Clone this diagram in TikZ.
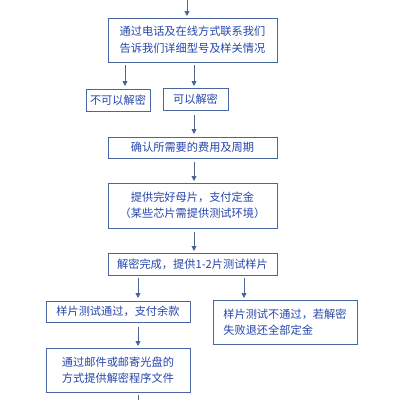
\documentclass[tikz,border=0pt]{standalone}
\usepackage{fontspec}
\setmainfont{Noto Sans CJK SC}
\usetikzlibrary{arrows.meta}
\definecolor{bordc}{HTML}{4A66A0}
\definecolor{txtc}{HTML}{2646AC}
\definecolor{arrc}{HTML}{4A6494}
\begin{document}
\begin{tikzpicture}[x=1pt,y=-1pt,
  box/.style={draw=bordc,line width=0.9pt,inner sep=0pt,fill=white},
  lbl/.style={text=txtc,font=\fontsize{11.2}{16.5}\selectfont,align=center},
  arr/.style={draw=arrc,line width=0.9pt,-{Triangle[length=5pt,width=5pt]}}]
\useasboundingbox (0,0) rectangle (400,400);
\fill[white] (0,0) rectangle (400,400);
% boxes
\draw[box] (108,18) rectangle (277,62); \node[lbl] (t1) at (192.5,40) {通过电话及在线方式联系我们\\告诉我们详细型号及样关情况};
\draw[box] (86,89) rectangle (150,111); \node[lbl] (t2) at (118,100) {不可以解密};
\draw[box] (163,88) rectangle (228,110); \node[lbl] (t3) at (195.5,99) {可以解密};
\draw[box] (108,137) rectangle (277,158); \node[lbl] (t4) at (192.5,147.5) {确认所需要的费用及周期};
\draw[box] (108,183) rectangle (277,228); \node[lbl] (t5) at (192.5,205.5) {提供完好母片，支付定金\\（某些芯片需提供测试环境）};
\draw[box] (108,253) rectangle (277,275); \node[lbl] (t6) at (192.5,264) {解密完成，提供1-2片测试样片};
\draw[box] (46,301) rectangle (190,322); \node[lbl] (t7) at (118,311.5) {样片测试通过，支付余款};
\draw[box] (213,300) rectangle (357,344); \node[lbl,align=left] (t8) at (285,322) {样片测试不通过，若解密\\失败退还全部定金};
\draw[box] (46,348) rectangle (190,392); \node[lbl] (t9) at (118,370) {通过邮件或邮寄光盘的\\方式提供解密程序文件};
% arrow coordinates
\coordinate (a0s) at (187,0); \coordinate (a0e) at (187,16);
\coordinate (a1s) at (125,65); \coordinate (a1e) at (125,86);
\coordinate (a2s) at (194,65); \coordinate (a2e) at (194,86);
\coordinate (a3s) at (194,115); \coordinate (a3e) at (194,134);
\coordinate (a4s) at (194,162); \coordinate (a4e) at (194,181);
\coordinate (a5s) at (194,232); \coordinate (a5e) at (194,251);
\coordinate (a6s) at (138,278); \coordinate (a6e) at (138,298);
\coordinate (a7s) at (244,278); \coordinate (a7e) at (244,298);
\coordinate (a8s) at (138,327); \coordinate (a8e) at (138,346);
\coordinate (a9s) at (138,395); \coordinate (a9e) at (138,402);
\draw[arr] (a0s) -- (a0e);
\draw[arr] (a1s) -- (a1e);
\draw[arr] (a2s) -- (a2e);
\draw[arr] (a3s) -- (a3e);
\draw[arr] (a4s) -- (a4e);
\draw[arr] (a5s) -- (a5e);
\draw[arr] (a6s) -- (a6e);
\draw[arr] (a7s) -- (a7e);
\draw[arr] (a8s) -- (a8e);
\draw[draw=arrc,line width=0.9pt] (a9s) -- (a9e);
\end{tikzpicture}
\end{document}
